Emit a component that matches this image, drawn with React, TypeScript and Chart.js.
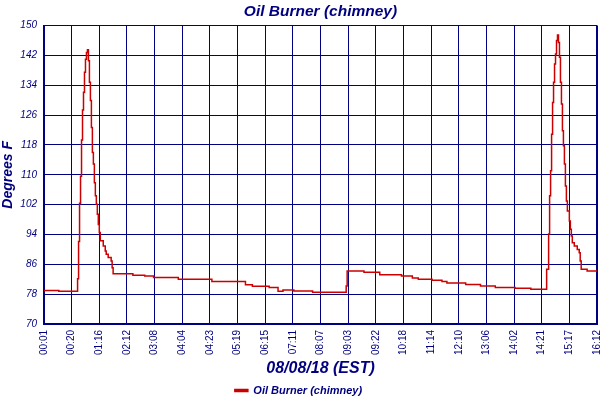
// Oil burner chimney temperature over one day, drawn as a stepped line.
import { useEffect, useRef } from 'react';
import { Chart, registerables } from 'chart.js';

Chart.register(...registerables);

const NAVY = '#000080';
const RED = '#cc0000';
const FONT = '"Liberation Sans", Arial, sans-serif';

// time labels shown under every 28th sample
const tickTimes = [
  '00:01', '00:20', '01:16', '02:12', '03:08', '04:04', '04:23', '05:19', '06:15', '07:11',
  '08:07', '09:03', '09:22', '10:18', '11:14', '12:10', '13:06', '14:02', '14:21', '15:17', '16:12',
];
const SAMPLES_PER_TICK = 28;

// sample index where the reading changes, and the reading from there on
const sampleIdx = [
  0, 15, 34, 35, 36, 37, 38, 39, 40, 41, 42, 43, 44, 45, 46, 47, 48, 49, 50, 51, 52, 53, 54, 55, 56, 57,
  60, 62, 63, 65, 68, 69, 70, 90, 102, 111, 136, 170,
  204, 211, 228, 237, 242, 253, 272, 306, 307, 324, 340, 362, 373, 379,
  393, 403, 408, 427, 442, 457, 477, 493,
  509, 511, 512, 513, 514, 515, 516, 517, 518, 519, 520, 521, 522, 523, 524, 525, 526, 527, 528, 529, 530,
  532, 533, 534, 535, 537, 540, 542, 543, 544, 550, 560,
];
const tempF = [
  79.0, 78.8, 82.1, 92.1, 102.4, 109.6, 119.3, 127.4, 132.1, 137.5, 141.0, 142.8, 143.5, 140.6, 134.8,
  129.9, 122.7, 116.0, 112.9, 107.9, 104.4, 102.1, 99.4, 96.7, 94.5, 92.3,
  90.9, 89.6, 88.7, 87.8, 86.9, 85.1, 83.5, 83.1, 82.9, 82.5, 82.0, 81.4,
  80.5, 80.1, 79.8, 78.8, 79.1, 78.85, 78.5, 80.2, 84.2, 83.9, 83.2, 82.9, 82.3, 82.0,
  81.7, 81.4, 81.0, 80.6, 80.2, 79.8, 79.6, 79.3,
  84.7, 94.1, 104.4, 111.1, 120.9, 129.4, 134.8, 139.7, 142.4, 146.0, 147.5, 145.5, 141.5, 134.8,
  129.0, 121.8, 117.8, 112.9, 107.0, 103.0, 100.3,
  97.6, 95.4, 93.6, 91.8, 90.9, 90.0, 89.1, 86.9, 84.7, 84.2, 84.2,
];

const Y_MIN = 70;
const Y_MAX = 150;
const Y_STEP = 8;

function OilBurnerChart() {
  const canvasRef = useRef<HTMLCanvasElement>(null);

  useEffect(() => {
    const canvas = canvasRef.current;
    if (!canvas) return;
    const lastX = (tickTimes.length - 1) * SAMPLES_PER_TICK;

    const chart = new Chart(canvas, {
      type: 'line',
      data: {
        datasets: [
          {
            label: 'Oil Burner (chimney)',
            data: tempF.map((y, i) => ({ x: sampleIdx[i], y })),
            stepped: true,
            borderColor: RED,
            backgroundColor: RED,
            borderWidth: 1.5,
            pointRadius: 0,
            fill: false,
          },
        ],
      },
      options: {
        responsive: false,
        animation: false,
        devicePixelRatio: 1,
        // legend sits low, almost on the bottom edge
        layout: { padding: { left: 0, right: 3, top: 0, bottom: -6 } },
        plugins: {
          title: {
            display: true,
            fullSize: false,
            text: 'Oil Burner (chimney)',
            color: NAVY,
            font: { family: FONT, size: 15.5, weight: 'bold', style: 'italic' },
            padding: { top: 2, bottom: 5 },
          },
          legend: {
            position: 'bottom',
            labels: {
              color: NAVY,
              boxWidth: 13,
              boxHeight: 2,
              padding: 3,
              font: { family: FONT, size: 11, weight: 'bold', style: 'italic' },
            },
          },
          tooltip: { enabled: false },
        },
        scales: {
          x: {
            type: 'linear',
            min: 0,
            max: lastX,
            afterFit: (scale: any) => {
              scale.height = 58;
              scale.paddingLeft = 0;
              scale.paddingRight = 0;
            },
            ticks: {
              stepSize: SAMPLES_PER_TICK,
              autoSkip: false,
              minRotation: 90,
              maxRotation: 90,
              padding: 6,
              color: NAVY,
              font: { family: FONT, size: 10 },
              callback: (v: any) => tickTimes[Math.round(Number(v) / SAMPLES_PER_TICK)] ?? '',
            },
            grid: {
              color: NAVY,
              drawTicks: false,
              lineWidth: (ctx: any) => (ctx.tick && ctx.tick.value === lastX ? 2 : 1),
            },
            border: { color: NAVY, width: 2 },
            title: {
              display: true,
              text: '08/08/18 (EST)',
              color: NAVY,
              font: { family: FONT, size: 16, weight: 'bold', style: 'italic' },
              padding: { top: 0, bottom: 4 },
            },
          },
          y: {
            min: Y_MIN,
            max: Y_MAX,
            afterFit: (scale: any) => {
              scale.width = 44;
            },
            ticks: {
              stepSize: Y_STEP,
              padding: 7,
              color: NAVY,
              font: { family: FONT, size: 10, style: 'italic' },
            },
            grid: { color: NAVY, drawTicks: false, lineWidth: 1 },
            border: { color: NAVY, width: 2 },
            title: {
              display: true,
              text: 'Degrees F',
              color: NAVY,
              font: { family: FONT, size: 14, weight: 'bold', style: 'italic' },
              padding: { top: 0, bottom: 0 },
            },
          },
        },
      },
    });

    return () => chart.destroy();
  }, []);

  return <canvas ref={canvasRef} width={600} height={400} style={{ display: 'block' }} />;
}

export default function App() {
  return (
    <div style={{ position: 'fixed', left: 0, top: 0, width: 600, height: 400, background: '#fff' }}>
      <OilBurnerChart />
    </div>
  );
}
